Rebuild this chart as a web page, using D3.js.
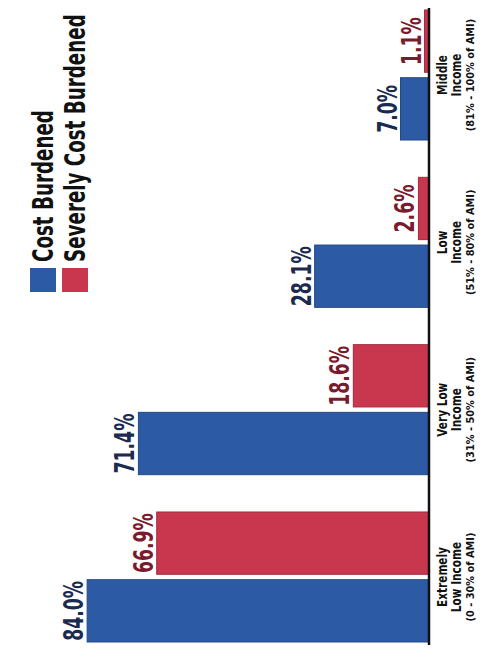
<!DOCTYPE html>
<html>
<head>
<meta charset="utf-8">
<script src="https://cdn.jsdelivr.net/npm/d3@7"></script>
<style>
  html, body { margin: 0; padding: 0; background: #fff; }
  svg { display: block; }
  text { font-family: "DejaVu Sans Condensed", "Liberation Sans Narrow", "Roboto", sans-serif; font-weight: bold; }
</style>
</head>
<body>
<div id="chart"></div>
<script>
// chart data (bar values in percent)
const categories = ["Extremely Low Income", "Very Low Income", "Low Income", "Middle Income"];
const labelLine1 = ["Extremely", "Very Low", "Low", "Middle"];
const labelLine2 = ["Low Income", "Income", "Income", "Income"];
const labelLine3 = ["(0 - 30% of AMI)", "(31% - 50% of AMI)", "(51% - 80% of AMI)", "(81% - 100% of AMI)"];
const costBurdened = [84.0, 71.4, 28.1, 7.0];
const severelyBurdened = [66.9, 18.6, 2.6, 1.1];
const seriesNames = ["Cost Burdened", "Severely Cost Burdened"];

const width = 492, height = 663;
const baseX = 429;

const svg = d3.select("#chart").append("svg")
    .attr("width", width)
    .attr("height", height);

// measure a string so condensed text can be squeezed to the reference length
function squeeze(str, size, target) {
    let t = svg.append("text").attr("font-size", size).text(str);
    let w = t.node().getComputedTextLength();
    t.remove();
    return target / w;
}

// chart is drawn rotated: bars grow to the left, categories run bottom -> top
const x = d3.scaleLinear().domain([0, 100]).range([baseX, baseX - 407]);

const y = d3.scaleBand()
    .domain(categories.slice().reverse())
    .range([10, 642])
    .paddingInner(0.223)
    .paddingOuter(0);

const sub = d3.scaleBand()
    .domain(["severe", "cost"])
    .range([0, y.bandwidth()])
    .paddingInner(0.08);

const colors = { cost: "#2c5aa4", severe: "#c8374d" };
const textColors = { cost: "#1b2b50", severe: "#7a1a2c" };

const rows = [];
categories.forEach(function (c, i) {
    rows.push({ cat: c, key: "cost", value: costBurdened[i] });
    rows.push({ cat: c, key: "severe", value: severelyBurdened[i] });
});

// bars
svg.selectAll("rect.bar")
    .data(rows)
    .enter()
    .append("rect")
    .attr("class", "bar")
    .attr("x", d => x(d.value))
    .attr("width", d => baseX - x(d.value))
    .attr("y", d => y(d.cat) + sub(d.key))
    .attr("height", sub.bandwidth())
    .attr("fill", d => colors[d.key])
    .attr("stroke", d => d3.color(colors[d.key]).darker(0.6))
    .attr("stroke-width", 1);

// value labels
const kVal = squeeze("84.0%", 27, 60);
svg.selectAll("text.value")
    .data(rows)
    .enter()
    .append("text")
    .attr("class", "value")
    .attr("transform", d => "translate(" + (x(d.value) - 4) + "," + (y(d.cat) + sub(d.key) + sub.bandwidth() / 2) + ") rotate(-90) scale(" + kVal + ",1)")
    .attr("text-anchor", "middle")
    .attr("font-size", 27)
    .attr("fill", d => textColors[d.key])
    .text(d => d.value.toFixed(1) + "%");

// axis line
svg.append("line")
    .attr("x1", baseX).attr("x2", baseX)
    .attr("y1", 8).attr("y2", 645)
    .attr("stroke", "#111")
    .attr("stroke-width", 2.5);

// category labels
const kCat = squeeze("Extremely", 14, 60);
const kSub = squeeze("(0 - 30% of AMI)", 11, 89);

const catG = svg.selectAll("g.cat")
    .data(categories)
    .enter()
    .append("g")
    .attr("class", "cat")
    .attr("transform", d => "translate(0," + (y(d) + y.bandwidth() / 2) + ")");

catG.append("text")
    .attr("transform", "translate(447,0) rotate(-90) scale(" + kCat + ",1)")
    .attr("text-anchor", "middle")
    .attr("font-size", 14)
    .attr("fill", "#111")
    .text((d, i) => labelLine1[i]);

catG.append("text")
    .attr("transform", "translate(461,0) rotate(-90) scale(" + kCat + ",1)")
    .attr("text-anchor", "middle")
    .attr("font-size", 14)
    .attr("fill", "#111")
    .text((d, i) => labelLine2[i]);

catG.append("text")
    .attr("transform", "translate(474,0) rotate(-90) scale(" + kSub + ",1)")
    .attr("text-anchor", "middle")
    .attr("font-size", 11)
    .attr("fill", "#111")
    .text((d, i) => labelLine3[i]);

// legend
const kLeg = squeeze("Cost Burdened", 29, 152);
const legend = svg.selectAll("g.legend")
    .data(seriesNames)
    .enter()
    .append("g")
    .attr("class", "legend")
    .attr("transform", (d, i) => "translate(" + (30 + i * 32) + ",0)");

legend.append("rect")
    .attr("x", 0)
    .attr("y", 268)
    .attr("width", 26)
    .attr("height", 24)
    .attr("fill", (d, i) => i == 0 ? colors.cost : colors.severe);

legend.append("text")
    .attr("transform", "translate(23,262) rotate(-90) scale(" + kLeg + ",1)")
    .attr("font-size", 29)
    .attr("fill", "#111")
    .text(d => d);
</script>
</body>
</html>
